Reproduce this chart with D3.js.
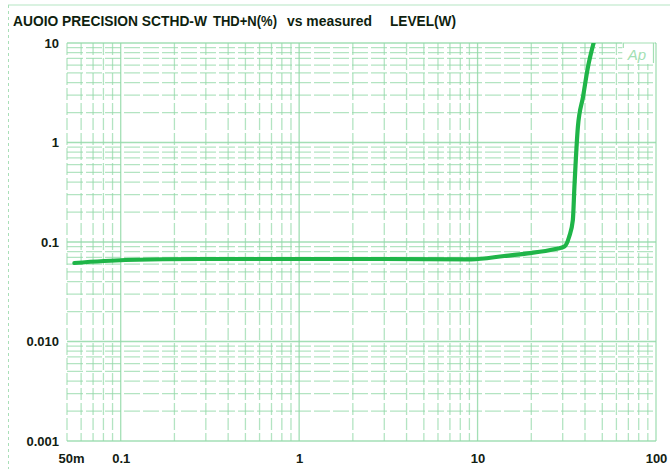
<!DOCTYPE html>
<html>
<head>
<meta charset="utf-8">
<script src="https://cdn.jsdelivr.net/npm/d3@7"></script>
<style>
  html, body { margin: 0; padding: 0; background: #ffffff; }
  svg { display: block; }
  .tick text { font-family: "Liberation Sans", Arial, sans-serif; font-weight: bold; font-size: 13px; fill: #122012; }
</style>
</head>
<body>
<svg id="chart" width="670" height="469"></svg>
<script>
// THD+N (%) against measured output level (W)
const levelW = [0.055, 0.106, 0.28, 1.0, 3.0, 9.2, 14.1, 19.1, 26.9, 30.6, 32.6, 34.2, 34.9, 36.5, 39.0, 41.6, 44.7];
const thdPct = [0.0615, 0.0659, 0.0675, 0.0675, 0.0675, 0.067, 0.0723, 0.0769, 0.0845, 0.0897, 0.113, 0.166, 0.36, 1.44, 2.88, 5.78, 10.0];

const xTickValues = [0.05, 0.1, 1, 10, 100];
const xTickLabels = ["50m", "0.1", "1", "10", "100"];
const yTickValues = [10, 1, 0.1, 0.01, 0.001];
const yTickLabels = ["10", "1", "0.1", "0.010", "0.001"];

const titleParts = ["AUOIO PRECISION SCTHD-W", "THD+N(%)", "vs measured", "LEVEL(W)"];

const svg = d3.select("#chart");
const plotL = 67, plotR = 656, plotT = 43, plotB = 441;

const x = d3.scaleLog().domain([0.05, 100]).range([plotL, plotR]);
const y = d3.scaleLog().domain([0.001, 10]).range([plotB, plotT]);

// page frame: top rule and dotted left edge
svg.append("line").attr("x1", 8).attr("x2", 670).attr("y1", 5).attr("y2", 5)
  .attr("stroke", "#b6e6c3").attr("stroke-width", 1.2);
svg.append("line").attr("x1", 8.5).attr("x2", 8.5).attr("y1", 5).attr("y2", 469)
  .attr("stroke", "#a9dfb8").attr("stroke-width", 1).attr("stroke-dasharray", "3,3");

// log grid: every 1..9 multiple of each decade
function logLines(lo, hi) {
  const out = [];
  for (let e = -4; e <= 3; e++) {
    for (let m = 1; m <= 9; m++) {
      const v = m * Math.pow(10, e);
      if (v >= lo * 0.9999 && v <= hi * 1.0001) out.push({ v, major: m === 1 });
    }
  }
  return out;
}
const gx = logLines(0.05, 100);
const gy = logLines(0.001, 10);

const grid = svg.append("g");
grid.selectAll("line.v").data(gx).join("line")
  .attr("x1", d => x(d.v)).attr("x2", d => x(d.v))
  .attr("y1", plotT).attr("y2", plotB)
  .attr("stroke", "#93d9a8")
  .attr("stroke-opacity", d => d.major ? 0.85 : 0.7)
  .attr("stroke-width", 1.3)
  .attr("stroke-dasharray", d => d.major ? null : "12,3");
grid.selectAll("line.h").data(gy).join("line")
  .attr("x1", plotL).attr("x2", plotR)
  .attr("y1", d => y(d.v)).attr("y2", d => y(d.v))
  .attr("stroke", "#93d9a8")
  .attr("stroke-opacity", d => d.major ? 0.85 : 0.7)
  .attr("stroke-width", 1.3)
  .attr("stroke-dasharray", d => d.major ? null : "16,3");

// "Ap" badge in the upper right corner of the plot
const badge = svg.append("g");
badge.append("rect")
  .attr("x", x(65.6) - 1).attr("y", y(10) - 1)
  .attr("width", x(96.8) - x(65.6) + 2).attr("height", y(6.3) - y(10) + 2)
  .attr("fill", "#ffffff");
badge.append("path")
  .attr("d", `M${x(65.6)},${y(8.9)} V${y(10)} H${x(96.8)} V${y(6.3)}`)
  .attr("fill", "none").attr("stroke", "#a3dfb3").attr("stroke-width", 1.2);
badge.append("text").attr("x", x(69.5)).attr("y", y(6.75))
  .attr("font-family", "Liberation Sans, Arial, sans-serif")
  .attr("font-style", "italic").attr("font-size", 15).attr("fill", "#a3dfb3")
  .text("Ap");

// measured curve
svg.append("defs").append("clipPath").attr("id", "plotClip")
  .append("rect").attr("x", plotL).attr("y", plotT).attr("width", plotR - plotL).attr("height", plotB - plotT);
const pts = levelW.map((v, i) => [v, thdPct[i]]);
svg.append("path").datum(pts)
  .attr("clip-path", "url(#plotClip)")
  .attr("d", d3.line().x(d => x(d[0])).y(d => y(d[1])).curve(d3.curveMonotoneX))
  .attr("fill", "none").attr("stroke", "#1fb548").attr("stroke-width", 4.2)
  .attr("stroke-linecap", "round").attr("stroke-linejoin", "round");

// axes: labels only
const xAxis = svg.append("g").attr("transform", `translate(0,${plotB})`)
  .call(d3.axisBottom(x).tickValues(xTickValues)
    .tickFormat((d, i) => xTickLabels[i]).tickSize(0).tickPadding(13));
xAxis.select(".domain").remove();
xAxis.selectAll(".tick text").attr("dx", (d, i) => i === 0 ? 4 : 0);

const yAxis = svg.append("g").attr("transform", `translate(${plotL},0)`)
  .call(d3.axisLeft(y).tickValues(yTickValues)
    .tickFormat((d, i) => yTickLabels[i]).tickSize(0).tickPadding(8));
yAxis.select(".domain").remove();

// title
const titleX = [13, 213, 287, 390];
const titleW = [194, 64, 85, 66];
svg.append("g").selectAll("text").data(titleParts).join("text")
  .attr("x", (d, i) => titleX[i]).attr("y", 26)
  .attr("textLength", (d, i) => titleW[i]).attr("lengthAdjust", "spacingAndGlyphs")
  .attr("font-family", "Liberation Sans, Arial, sans-serif")
  .attr("font-weight", "bold").attr("font-size", 14).attr("fill", "#0f1f0f")
  .text(d => d);
</script>
</body>
</html>
